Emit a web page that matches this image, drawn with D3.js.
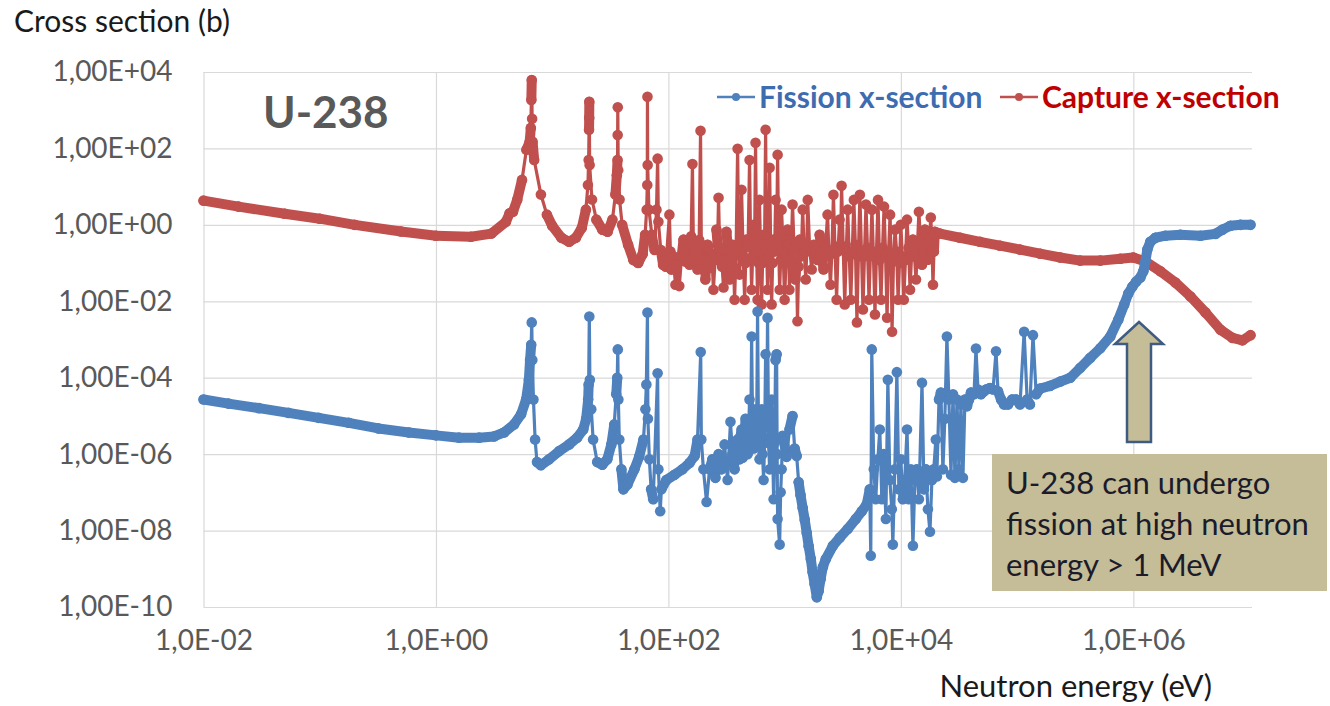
<!DOCTYPE html>
<html>
<head>
<meta charset="utf-8">
<script src="https://cdn.jsdelivr.net/npm/d3@7/dist/d3.min.js"></script>
<style>
  body { margin: 0; background: #fff; }
  svg text { font-family: Lato, "Open Sans", sans-serif; }
</style>
</head>
<body>
<svg id="xs"></svg>
<script>

// axis ticks and their labels (as printed on the original chart)
var xTicks = [1e-2, 1e0, 1e2, 1e4, 1e6];
var xTickLabels = ["1,0E-02", "1,0E+00", "1,0E+02", "1,0E+04", "1,0E+06"];
var yTicks = [1e4, 1e2, 1e0, 1e-2, 1e-4, 1e-6, 1e-8, 1e-10];
var yTickLabels = ["1,00E+04", "1,00E+02", "1,00E+00", "1,00E-02", "1,00E-04", "1,00E-06", "1,00E-08", "1,00E-10"];

var seriesNames = ["Fission x-section", "Capture x-section"];

// fission cross-section of U-238: energy (eV) / cross section (b)
var fissionE = [
  0.01, 0.0164, 0.030, 0.054, 0.098, 0.178, 0.32, 0.585, 1, 1.58, 2.35, 3.16, 3.86, 4.7, 5.4, 5.97,
  6.3, 6.45, 6.6, 6.67, 6.75, 6.9, 7.13, 7.4, 8.0, 9.4, 11.5, 14, 16.4, 18.5, 19.6, 20.4, 20.6, 20.87,
  21.1, 21.7, 22.5, 24.4, 27, 29.8, 32.3, 34.2, 35.6, 36.3, 36.68, 37.1, 37.8, 39.4, 41, 44.4, 51, 56,
  61, 63.4, 64.6, 66.03, 66.6, 68.6, 71, 74, 80.75, 82, 85, 87, 96, 113, 132, 152, 168, 178, 189.7,
  192, 200, 213, 226, 239, 254, 270, 286, 304, 323, 342, 356, 371,
  394, 401, 409, 418, 426, 435, 443, 452, 461, 470, 480, 490, 499, 510, 520, 530, 541, 551, 562, 573,
  585, 596, 608, 620, 634, 646, 659, 672, 686, 700, 713, 728, 743, 758, 773, 788, 804, 820, 836, 853,
  862, 870, 906, 924, 942, 960, 980, 1040, 1100,
  1170, 1220, 1270, 1320, 1370, 1430, 1490, 1550, 1610, 1680, 1740, 1810, 1890, 1960, 2040, 2130, 2260,
  2600, 2980, 3490, 4090, 4610, 5090, 5400, 5510, 5620, 5850, 6080, 6340, 6590, 6860, 7130, 7430, 7730,
  8040, 8360, 8530, 8870, 9240, 9610, 10000, 10400, 10800, 11300, 11700, 12200, 12700, 13200, 13700,
  14300, 15200, 15800, 16400, 17100, 17800, 18500, 19200, 20000, 20400, 21300, 22100, 23000, 23900,
  24900, 25900, 27000, 28100, 29200, 30400, 31600, 32900, 34200, 35600, 37100, 38600, 40100, 42600,
  44300, 46100, 48900, 52000, 54100, 58500, 62100, 65900, 68500, 72800, 77300, 83600, 90600, 98000,
  106000, 115000, 122000, 129000, 137000, 146000, 158000, 192000, 235000, 287000, 349000, 426000,
  520000, 634000, 743000, 836000, 906000, 980000, 1.06e6, 1.15e6, 1.22e6, 1.27e6, 1.32e6, 1.40e6,
  1.55e6, 1.89e6, 2.54e6, 3.78e6, 5.09e6, 5.85e6, 6.85e6, 8.36e6, 1.02e7
];
var fissionXS = [
  2.7e-5, 2.1e-5, 1.6e-5, 1.2e-5, 8.9e-6, 6.6e-6, 4.7e-6, 3.7e-6, 3.1e-6, 2.7e-6, 2.7e-6, 2.9e-6, 3.7e-6, 6.0e-6, 1.1e-5, 2.7e-5,
  8.8e-5, 2.9e-4, 7.3e-4, 2.8e-3, 2.9e-4, 2.7e-5, 2.4e-6, 6.2e-7, 5.1e-7, 7.3e-7, 1.2e-6, 1.8e-6, 2.7e-6, 4.4e-6, 8.4e-6, 2.7e-5, 6.6e-5, 4.0e-3,
  8.8e-5, 1.5e-5, 2.4e-6, 6.2e-7, 5.3e-7, 7.3e-7, 1.8e-6, 6.0e-6, 3.7e-5, 1.0e-4, 5.5e-4, 2.7e-5, 2.4e-6, 4.0e-7, 1.2e-7, 1.6e-7, 4.0e-7, 8.5e-7,
  2.4e-6, 1.5e-5, 6.6e-5, 5.1e-3, 8.4e-6, 7.3e-7, 1.2e-7, 6.6e-8, 1.3e-4, 4.0e-7, 3.2e-8, 1.2e-7, 2.1e-7, 2.9e-7, 4.0e-7, 5.9e-7, 8.9e-7, 2.4e-6, 4.7e-4,
  2.4e-6, 4.0e-7, 5.6e-8, 4.0e-7, 7.3e-7, 2.4e-7, 1.0e-6, 4.0e-7, 1.8e-6, 2.1e-7, 7.0e-6, 1.0e-6, 4.0e-7,
  2.4e-6, 1.0e-6, 7.3e-7, 3.0e-6, 4.4e-6, 8.0e-7, 1.4e-6, 3.0e-6, 8.4e-6, 1.5e-6, 1.0e-6, 4.0e-6, 2.7e-5, 2.0e-6, 1.2e-3, 5.0e-6, 1.4e-6, 4.0e-6, 1.5e-5, 2.0e-6,
  5.4e-3, 3.0e-6, 7.3e-7, 4.0e-6, 1.5e-5, 1.0e-6, 2.1e-7, 2.0e-6, 4.1e-4, 5.0e-6, 3.7e-3, 2.0e-6, 4.0e-7, 3.0e-6, 2.7e-5, 1.5e-6, 6.6e-8, 2.0e-6, 2.9e-4, 4.1e-4,
  1.0e-6, 2.0e-8, 4.3e-9, 1.0e-7, 4.0e-7, 3.0e-6, 2.4e-6, 8.5e-7, 4.4e-6,
  1.0e-5, 1.4e-6, 8.9e-7, 1.85e-7, 8.5e-8, 3.9e-8, 1.9e-8, 8.6e-9, 3.9e-9, 1.8e-9, 8.2e-10, 4.0e-10, 1.8e-10, 2.6e-10, 5.4e-10, 1.1e-9, 1.8e-9,
  4.0e-9, 6.5e-9, 1.1e-8, 2.0e-8, 3.2e-8, 4.9e-8, 1.2e-7, 2.2e-9, 5.5e-4, 4.0e-7, 6.6e-8, 7.3e-7, 4.4e-6, 6.6e-8, 1.0e-6, 2.0e-8, 8.8e-5,
  2.1e-7, 3.6e-8, 4.3e-9, 4.0e-7, 1.4e-4, 1.2e-7, 7.3e-7, 6.6e-8, 2.1e-7, 4.4e-6, 6.6e-8, 4.0e-7, 4.0e-9, 2.1e-7, 4.0e-7,
  6.6e-8, 7.4e-5, 1.2e-7, 4.0e-7, 3.6e-8, 9.3e-9, 2.1e-7, 4.0e-7, 2.4e-6, 2.6e-7, 2.7e-5, 4.1e-5, 4.0e-7, 8.4e-6,
  1.2e-3, 2.7e-5, 2.9e-7, 3.7e-5, 2.4e-7, 2.7e-5, 4.0e-7, 2.0e-5, 2.4e-7, 2.7e-5, 1.8e-5, 2.7e-5, 4.1e-5, 3.7e-5,
  5.8e-4, 4.9e-5, 3.7e-5, 4.4e-5, 4.9e-5, 5.4e-5, 4.9e-5, 4.9e-4, 4.4e-5, 2.7e-5, 2.0e-5, 2.0e-5, 2.7e-5, 2.7e-5,
  2.0e-5, 1.6e-3, 2.7e-5, 2.0e-5, 1.3e-3, 3.7e-5, 5.2e-5, 6.1e-5, 7.9e-5, 1.0e-4, 1.8e-4, 3.3e-4,
  5.9e-4, 1.2e-3, 3.3e-3, 8.3e-3, 1.6e-2, 2.4e-2, 3.3e-2, 4.2e-2, 6.1e-2, 0.11, 0.225, 0.36,
  0.46, 0.52, 0.55, 0.52, 0.58, 0.75, 0.95, 1.0, 1.0
];

// radiative capture cross-section of U-238: energy (eV) / cross section (b)
var captureE = [
  0.01, 0.02, 0.05, 0.1, 0.2, 0.5, 1, 2, 3, 4.0, 4.3, 4.6, 5, 5.5, 6, 6.4, 6.55, 6.62, 6.67, 6.72, 6.78,
  7, 8, 9, 10, 12, 14, 16, 18, 19.5, 20.3, 20.6, 20.75, 20.82, 20.87, 21.0, 22, 24, 27, 30, 33, 35, 36,
  36.5, 36.6, 36.68, 37, 38, 40, 45, 50, 55, 60, 63, 65, 65.8, 66.03, 66.3, 68, 72, 76, 79, 80.75, 82,
  86, 90, 95,
  102, 104, 106, 110, 115, 120, 124, 130, 135, 138, 140, 146, 152, 157, 161, 164, 168, 173, 178, 184,
  189, 192, 196, 202, 208, 212, 217, 224, 230, 237, 244, 252, 259, 265, 270, 276, 281, 290, 298, 307,
  316, 326, 336, 346, 356, 364, 371, 382, 394, 402, 409, 418, 426, 440, 453, 462, 470, 485, 499, 510,
  520, 530, 541, 552, 562, 574, 585, 596, 608, 620, 634, 646, 659, 672, 686, 700, 713, 728, 743, 758,
  773, 788, 804, 820, 836, 853, 870, 888, 906, 924, 942, 970, 1000, 1030, 1060, 1080, 1100, 1135, 1170,
  1205, 1240, 1265, 1290, 1320, 1350, 1390, 1430, 1475, 1520, 1550, 1580, 1640, 1710, 1780, 1850, 1920,
  2000, 2080, 2160, 2250, 2340, 2410, 2480, 2550, 2630, 2710, 2800, 2880, 2970, 3030, 3090, 3190, 3290,
  3390, 3490, 3600, 3710, 3820, 3940, 4060, 4190, 4310, 4440, 4580, 4720, 4860, 5010, 5160, 5320, 5480,
  5640, 5810, 5990, 6170, 6360, 6550, 6750, 6960, 7170, 7390, 7610, 7840, 8080, 8240, 8400, 8660, 8920,
  9190, 9470, 9730, 10000, 10300, 10600, 10950, 11300, 11650, 12000, 12350, 12700, 13100, 13500, 13900,
  14300, 14750, 15200, 15650, 16100, 16600, 17100, 17600, 18100, 18500, 18900, 19250, 19600,
  21700, 32300, 48000, 71300, 106000, 158000, 235000, 349000, 520000, 773000, 1e6, 1.27e6, 1.71e6,
  2.30e6, 3.10e6, 4.18e6, 5.62e6, 7.13e6, 8.7e6, 1.02e7
];
var captureXS = [
  4.3, 3.0, 1.95, 1.45, 1.0, 0.67, 0.52, 0.49, 0.59, 1.2, 2.0, 2.2, 4.5, 15, 92, 148, 345, 1860, 6200, 600, 150,
  50, 6.2, 1.85, 0.95, 0.46, 0.36, 0.46, 0.84, 2.5, 11, 50, 307, 630, 1660, 37, 4.6, 1.37, 0.75, 0.66, 1.37, 6.2, 20,
  50, 225, 1200, 27, 4.6, 1.0, 0.3, 0.12, 0.1, 0.17, 0.55, 2.5, 11, 2240, 37, 2.5, 0.55, 0.22, 2.5, 54, 1.2,
  0.22, 0.09, 0.08,
  1.85, 0.2, 0.068, 0.15, 0.027, 0.1, 0.025, 0.15, 0.41, 0.2, 0.11, 0.3, 0.091, 0.5, 39, 0.3, 0.11, 0.2, 0.068, 0.4,
  290, 0.3, 0.068, 0.15, 0.037, 0.12, 0.30, 0.2, 0.076, 0.15, 0.020, 0.12, 0.75, 0.3, 5.1, 0.25, 0.123, 0.08, 0.023, 0.1,
  0.66, 0.2, 0.037, 0.12, 0.30, 0.08, 0.011, 0.2, 98, 0.3, 0.05, 0.2, 8.3, 0.15, 0.011, 0.1, 0.41, 0.3, 50, 0.25,
  0.020, 0.15, 1.0, 0.4, 140, 0.2, 0.011, 0.1, 4.5, 0.2, 0.0083, 0.1, 0.55, 0.3, 306, 0.25, 0.02, 0.15, 31, 0.3,
  0.0083, 0.1, 0.41, 0.2, 4.5, 0.3, 68, 0.3, 0.020, 0.12, 2.5, 0.2, 0.011, 0.15, 0.75, 0.3, 0.020, 0.15, 3.4,
  0.25, 0.037, 0.1, 0.003, 0.08, 0.41, 0.15, 2.5, 0.2, 0.037, 0.2, 4.5, 0.25, 0.068, 0.3, 0.225, 0.12,
  0.55, 0.2, 0.068, 0.25, 1.85, 0.15, 0.027, 0.2, 6.1, 0.25, 0.011, 0.2, 1.37, 0.3, 10.5, 0.25, 0.0083,
  0.2, 2.5, 0.15, 0.011, 0.2, 4.5, 0.3, 0.0028, 0.15, 6.1, 0.2, 0.0061, 0.15, 3.4, 0.25, 0.011, 0.2,
  2.5, 0.15, 0.0045, 0.2, 4.5, 0.12, 0.011, 0.25, 3.0, 0.15, 0.0037, 0.2, 1.85, 0.12, 0.0016, 0.15, 0.75,
  0.2, 0.011, 0.1, 1.0, 0.15, 0.011, 0.12, 1.37, 0.25, 0.02, 0.15, 0.41, 0.15, 0.037, 0.3,
  2.2, 0.4, 0.091, 0.3, 0.75, 0.3, 0.123, 0.4, 1.55, 0.3, 0.027, 0.2, 0.66,
  0.59, 0.46, 0.36, 0.285, 0.225, 0.176, 0.14, 0.116, 0.116, 0.13, 0.14, 0.11, 0.061,
  0.031, 0.0134, 0.0051, 0.0018, 0.0011, 0.00095, 0.0013
];

var fissionColor = "#4F81BD", captureColor = "#C0504D";


function drawSeries(g, x, y, E, XS, color) {
  var pts = E.map(function(e, i) { return [x(e), y(XS[i])]; });

  // the original has thousands of points; where the curve is smooth the
  // markers merge into a thick band, so draw that band first
  var band = g.append("g");
  for (var i = 1; i < pts.length; i++) {
    if (Math.abs(pts[i][1] - pts[i - 1][1]) <= 20) {
      band.append("line")
        .attr("x1", pts[i - 1][0]).attr("y1", pts[i - 1][1])
        .attr("x2", pts[i][0]).attr("y2", pts[i][1])
        .attr("stroke", color)
        .attr("stroke-width", 10)
        .attr("stroke-linecap", "round");
    }
  }

  g.append("path")
    .datum(pts)
    .attr("fill", "none")
    .attr("stroke", color)
    .attr("stroke-width", 3.2)
    .attr("stroke-linejoin", "round")
    .attr("d", d3.line());

  g.selectAll("circle")
    .data(pts)
    .enter().append("circle")
    .attr("cx", function(d) { return d[0]; })
    .attr("cy", function(d) { return d[1]; })
    .attr("r", 5.3)
    .attr("fill", color);
}


function drawChart(svgEl) {
  var margin = {top: 72, right: 78, bottom: 99, left: 203.5},
      width = 1330 - margin.left - margin.right,
      height = 706 - margin.top - margin.bottom;

  var root = d3.select(svgEl)
    .attr("width", 1330)
    .attr("height", 706);

  var svg = root.append("g")
    .attr("transform", "translate(" + margin.left + "," + margin.top + ")");

  var x = d3.scaleLog().domain([1e-2, 1.05e7]).range([0, width]);
  var y = d3.scaleLog().domain([1e-10, 1e4]).range([height, 0]);

  // horizontal gridlines + y labels
  var gy = svg.append("g")
    .call(d3.axisLeft(y)
      .tickValues(yTicks)
      .tickSize(-width)
      .tickPadding(31)
      .tickFormat(function(d, i) { return yTickLabels[i]; }));
  gy.select(".domain").remove();
  gy.selectAll("line").attr("stroke", "#D9D9D9").attr("stroke-width", 1.2);
  gy.selectAll("text")
    .attr("fill", "#595959")
    .style("font-size", "28px")
    .style("font-family", "Lato, sans-serif");

  // vertical gridlines + x labels
  var gx = svg.append("g")
    .attr("transform", "translate(0," + height + ")")
    .call(d3.axisBottom(x)
      .tickValues(xTicks)
      .tickSize(-height)
      .tickPadding(23)
      .tickFormat(function(d, i) { return xTickLabels[i]; }));
  gx.select(".domain").remove();
  gx.selectAll("line").attr("stroke", "#D9D9D9").attr("stroke-width", 1.2);
  gx.selectAll("text")
    .attr("fill", "#595959")
    .style("font-size", "28px")
    .style("font-family", "Lato, sans-serif");

  // series: capture below, fission on top
  drawSeries(svg.append("g"), x, y, captureE, captureXS, captureColor);
  drawSeries(svg.append("g"), x, y, fissionE, fissionXS, fissionColor);

  // axis titles
  root.append("text")
    .attr("x", 14)
    .attr("y", 32)
    .attr("fill", "#1a1a1a")
    .style("font-size", "30px")
    .text("Cross section (b)");

  root.append("text")
    .attr("x", 1212)
    .attr("y", 697)
    .attr("text-anchor", "end")
    .attr("fill", "#1a1a1a")
    .style("font-size", "31px")
    .text("Neutron energy (eV)");

  // isotope label
  root.append("text")
    .attr("x", 263)
    .attr("y", 128)
    .attr("fill", "#595959")
    .style("font-size", "44px")
    .style("font-weight", "bold")
    .text("U-238");

  // legend
  var legend = [
    {x: 717, color: fissionColor, text: "#3D6CB0"},
    {x: 1000, color: captureColor, text: "#C00000"}
  ];
  legend.forEach(function(l, i) {
    var lg = root.append("g").attr("transform", "translate(" + l.x + ",97)");
    lg.append("line").attr("x1", 0).attr("x2", 38)
      .attr("stroke", l.color).attr("stroke-width", 2.5);
    lg.append("circle").attr("cx", 19).attr("r", 4).attr("fill", l.color);
    lg.append("text")
      .attr("x", 42)
      .attr("dy", "0.35em")
      .attr("fill", l.text)
      .style("font-size", "30px")
      .style("font-weight", "bold")
      .text(seriesNames[i]);
  });

  // arrow pointing at the fission threshold
  root.append("path")
    .attr("d", "M1139,322 L1163,344 L1151,344 L1151,442 L1127,442 L1127,344 L1115,344 Z")
    .attr("fill", "#C4BD97")
    .attr("stroke", "#3F5B82")
    .attr("stroke-width", 2.5)
    .attr("stroke-linejoin", "miter");

  // note box
  root.append("rect")
    .attr("x", 992).attr("y", 454)
    .attr("width", 335).attr("height", 137)
    .attr("fill", "#C4BD97");

  var note = ["U-238 can undergo", "fission at high neutron", "energy > 1 MeV"];
  root.append("g").selectAll("text")
    .data(note)
    .enter().append("text")
    .attr("x", 1006)
    .attr("y", function(d, i) { return 494 + i * 41; })
    .attr("fill", "#1b1b2b")
    .style("font-size", "31px")
    .text(function(d) { return d; });
}

drawChart(document.querySelector("#xs"));
</script>
</body>
</html>
